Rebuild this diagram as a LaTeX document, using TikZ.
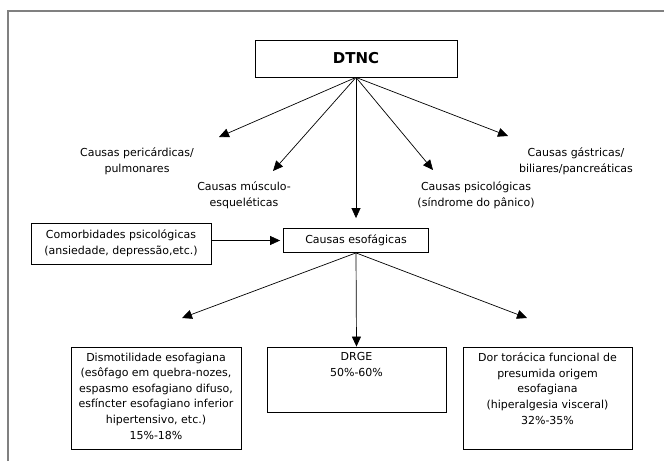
\documentclass[tikz,border=0pt]{standalone}
\usepackage{fontspec}
\setmainfont{DejaVu Sans}
\usetikzlibrary{arrows.meta,positioning}

\begin{document}
\begin{tikzpicture}[x=1pt,y=-1pt,
    box/.style={draw,line width=0.8pt,inner sep=0pt,
                font=\fontsize{11}{15.6}\selectfont,align=center},
    txt/.style={font=\fontsize{11}{15.6}\selectfont,align=center,inner sep=1pt},
    arr/.style={-{Triangle[length=10pt,width=9pt]},line width=0.7pt},
  ]
    \useasboundingbox (0,0) rectangle (664,461);
    \draw[gray,line width=1.5pt] (8,461) -- (8,11) -- (664,11);
    \node[box,minimum width=202,minimum height=37,
          font=\fontsize{15}{17}\selectfont\bfseries](dtnc) at (356,58.5){DTNC};
    \node[txt](peri) at (137,161){Causas pericárdicas/\\pulmonares};
    \node[txt](musc) at (244,195){Causas músculo-\\esqueléticas};
    \node[txt](psic) at (476,195){Causas psicológicas\\(síndrome do pânico)};
    \node[txt](gast) at (576,161){Causas gástricas/\\biliares/pancreáticas};
    \coordinate (tperi) at (219,137);
    \coordinate (tmusc) at (273,171);
    \coordinate (tpsic) at (433,170);
    \coordinate (tgast) at (508,136);
    \draw[arr](dtnc.south)--(tperi); \draw[arr](dtnc.south)--(tmusc);
    \draw[arr](dtnc.south)--(tpsic); \draw[arr](dtnc.south)--(tgast);
    \node[box,minimum width=180,minimum height=41](como) at (121,243.5)
      {Comorbidades psicológicas\\(ansiedade, depressão,etc.)};
    \node[box,minimum width=145,minimum height=24](esof) at (356,240.5){Causas esofágicas};
    \draw[arr,shorten >=10pt](dtnc.south)--(esof.north);
    \draw[arr,shorten >=3pt](como.east |- esof)--(esof.west);
    \node[box,minimum width=170,minimum height=102](dism) at (156,398){};
    \node[box,minimum width=179,minimum height=65](drge) at (356.5,379.5){};
    \node[box,minimum width=169,minimum height=102](dor) at (547.5,398){};
    \node[txt,below=5pt of dism.north]{Dismotilidade esofagiana\\(esôfago em quebra-nozes,\\
      espasmo esofagiano difuso,\\esfíncter esofagiano inferior\\hipertensivo, etc.)\\15\%-18\%};
    \node[txt,below=5pt of drge.north]{DRGE\\50\%-60\%};
    \node[txt,below=5pt of dor.north]{Dor torácica funcional de\\presumida origem\\esofagiana\\
      (hiperalgesia visceral)\\32\%-35\%};
    \coordinate (tdism) at (182,318);
    \coordinate (tdor) at (527,318);
    \draw[arr](esof.south)--(tdism); \draw[arr](esof.south)--(drge.north);
    \draw[arr](esof.south)--(tdor);
  \end{tikzpicture}
\end{document}
